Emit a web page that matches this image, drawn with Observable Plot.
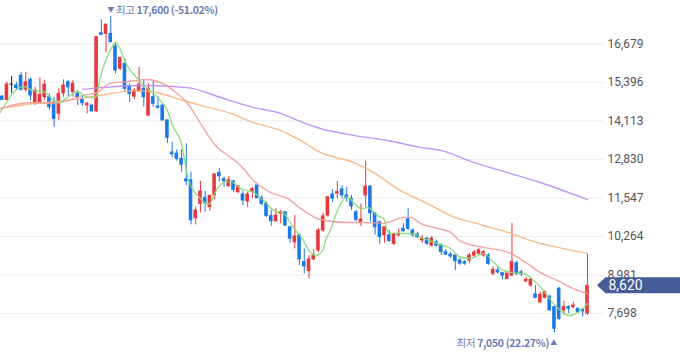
<!DOCTYPE html>
<html><head><meta charset="utf-8">
<script src="https://cdn.jsdelivr.net/npm/d3@7"></script>
<script src="https://cdn.jsdelivr.net/npm/@observablehq/plot@0.6"></script>
<style>
html,body{margin:0;padding:0;background:#fff;}
#chart{width:680px;height:358px;overflow:hidden;}
</style></head>
<body><div id="chart"></div>
<script>
// Daily candles (oldest -> newest)
const opens  = [14920,14810,15320,15290,15620,15150,15480,14730,14730,14900,14900,14730,14350,15030,15400,15070,15010,14810,14630,14620,14430,17030,17010,17010,16590,15850,16010,15260,14920,15100,15180,14290,14900,14590,14620,14130,13060,13020,12850,12160,12130,10870,11350,11550,11240,11630,12380,12170,11940,12100,11740,11660,11430,11740,11960,11540,11350,10940,10770,11020,11070,10570,10070,10300,9410,9110,9500,9800,10460,10960,11660,11690,11830,11630,11520,11070,10740,11630,11930,11040,10740,10300,10300,10020,10300,10520,10830,10460,10330,10130,10190,9960,10070,9960,9740,9660,9630,9460,9410,9460,9630,9690,9630,9630,9020,9130,9040,8850,8960,9370,9070,8770,8630,8330,8070,8220,8260,7910,8520,7800,7910,7910,7860,7820,7700];
const highs  = [14960,15400,15590,15400,15730,15730,15550,15230,15550,15460,15010,14900,15180,15480,15460,15460,15120,14920,14730,14660,16920,17480,17320,17600,16730,16210,16180,15350,15180,15900,15460,15350,15460,14900,14680,14130,13400,13150,13150,13350,12400,11240,12100,11760,11620,12330,12520,12240,12260,12130,11960,11770,11740,11900,11960,11630,11400,11130,11190,11130,11070,10600,10960,10300,9850,9630,9820,10530,11040,11590,11820,12100,11960,11900,11630,11130,11350,12770,11930,11040,10740,10570,10460,10350,10520,10690,11190,10520,10400,10300,10240,10260,10130,10020,9830,9730,9630,9530,9460,9700,9800,9860,9800,9700,9260,9230,9060,9060,10700,9440,9130,8900,8890,8630,8410,8460,8300,7910,8570,8110,7960,8070,7860,7860,9690];
const lows   = [14790,14790,15020,15120,15100,15070,14790,14620,14660,14790,14460,13900,14130,14900,14920,14900,14620,14590,14350,14400,14400,16950,16370,16730,15680,15790,15070,14730,14810,15070,14570,14260,14570,14510,14100,13360,12880,12770,12400,11960,10650,10650,11040,11070,11100,11490,12070,11900,11900,11740,11690,11290,11220,11520,11520,11290,10890,10600,10740,10690,10600,10030,9850,9300,9020,8850,9460,9730,10400,10900,11400,11520,11520,11400,11130,10740,10600,11240,10740,10300,10000,10040,10070,9960,10240,10400,10460,10240,10190,10040,9960,9910,9910,9630,9630,9530,9130,9300,9300,9360,9530,9630,9560,9300,8960,9000,8820,8830,8960,8960,8930,8730,8570,8190,8020,8190,7780,7050,7460,7630,7690,7860,7700,7580,7630];
const closes = [14810,15320,15320,15210,15150,15400,14960,15120,14980,15320,14570,14180,15010,15290,15230,15350,14900,14700,14680,14430,16900,16980,17320,16730,15790,16210,15180,15010,15120,15320,14900,15180,14680,14550,14130,13550,13000,12850,12650,12100,10800,11130,11760,11370,11620,12330,12270,12100,12130,11820,11940,11460,11660,11840,11540,11350,10940,10770,10960,11070,10630,10190,10260,9500,9270,9500,9630,10460,10930,11570,11520,11740,11630,11550,11260,10820,10830,11930,11040,10570,10240,10570,10110,10350,10350,10440,10520,10300,10240,10190,10020,10190,9960,9740,9660,9600,9440,9360,9360,9630,9730,9800,9740,9350,9150,9070,8960,9020,9410,9020,9000,8820,8820,8220,8320,8410,7800,7190,7520,7910,7860,7960,7740,7770,8620];

// Moving averages (candle position, price)
const ma5Idx  = [-0.4,4.5,6.6,8.75,10.9,11.9,13.8,16.0,17.0,18.7,19.8,20.8,22.9,24.0,25.1,26.1,27.2,28.7,30.8,32.1,33.5,35.0,36.3,37.8,39.5,42.0,43.7,45.6,47.3,48.4,50.5,53.2,55.4,57.5,59.6,61.7,63.8,64.9,66.4,67.9,68.5,69.5,71.3,73.2,74.4,76.3,77.4,79.5,80.8,81.8,83.7,85.9,88.0,89.3,92.2,95.0,97.0,99.2,102.0,104.1,106.2,108.3,110.4,112.6,114.7,116.6,118.3,120.0,121.9,124.0];
const ma5Val  = [14390,15260,15120,15090,14790,14720,14890,15090,14990,14890,14890,15560,16460,16720,16460,16060,15790,15520,15190,15020,14790,14460,13890,13460,12130,11530,11330,11860,12090,12090,11860,11730,11460,11130,11030,10560,10130,9800,9630,9800,10130,10460,11230,11590,11390,11190,11230,10960,10860,10400,10360,10360,10300,10200,10030,9860,9580,9530,9700,9400,9130,9060,9030,8800,8460,8060,7800,7630,7730,8030];
const ma20Idx = [-0.4,3.9,6.6,10.2,13.8,17.2,20.2,22.9,26.5,30.8,33.5,36.3,39.3,42.0,45.2,48.4,50.5,53.2,56.8,60.4,63.8,67.4,73.2,76.6,80.8,82.9,85.0,86.5,88.6,92.2,95.0,97.1,102.0,107.7,110.9,114.0,117.6,121.0,124.0];
const ma20Val = [14520,14690,14720,14690,14790,14960,15060,15360,15420,15490,15390,15120,14690,14030,13290,12890,12630,12130,11730,11530,11130,10830,10730,10730,10700,10800,10900,10900,10700,10530,10400,10100,9900,9700,9400,9060,8800,8530,8360];
const ma60Idx = [-0.4,6.6,13.8,20.8,27.8,31.4,35.0,38.4,42.0,48.4,53.2,59.0,63.2,67.4,74.4,78.7,84.4,90.1,95.0,102.0,107.1,114.0,118.9,124.0];
const ma60Val = [14520,14690,14790,14960,15120,15090,14960,14790,14630,14360,14060,13790,13460,13060,12730,12390,11790,11360,10960,10630,10400,10030,9860,9700];
const ma120Idx = [17.0,20.8,29.9,39.3,46.3,53.2,59.0,62.6,67.4,74.4,81.6,88.6,92.9,99.9,107.1,114.0,124.0];
const ma120Val = [15160,15220,15290,15220,14890,14560,14360,14130,13860,13630,13460,13230,13130,12730,12390,12060,11490];

const yTicks = [16679,15396,14113,12830,11547,10264,8981,7698];
const highIdx = 23, highPrice = 17600, highPct = "-51.02%";
const lowIdx = 117, lowPrice = 7050, lowPct = "22.27%";
const lastPrice = 8620;

const UP = "#e8383d", DOWN = "#1b78e5", FLAT = "#222";
const candles = opens.map((o, i) => ({
  i, o, h: highs[i], l: lows[i], c: closes[i],
  color: closes[i] > o ? UP : closes[i] < o ? DOWN : FLAT
}));
const mk = (idx, val) => idx.map((x, k) => ({x, v: val[k]}));
const lines = [
  {data: mk(ma120Idx, ma120Val), color: "#b98cf5"},
  {data: mk(ma60Idx, ma60Val), color: "#f7b47c"},
  {data: mk(ma20Idx, ma20Val), color: "#f59a9a"},
  {data: mk(ma5Idx, ma5Val), color: "#86da7c"}
];

const W = 680, H = 358, MR = 77;
const plot = Plot.plot({
  width: W, height: H,
  marginLeft: 0, marginRight: MR, marginTop: 0, marginBottom: 0,
  style: {fontFamily: "Roboto, 'Noto Sans CJK KR', sans-serif", fontSize: "12px", background: "#fff", overflow: "visible"},
  x: {domain: [-0.36, 127.39], axis: null},
  y: {domain: [6200, 18121], axis: null},
  color: {type: "identity"},
  marks: [
    Plot.gridY(yTicks, {stroke: "#ececec", strokeOpacity: 1}),
    Plot.axisY(yTicks, {anchor: "right", tickSize: 0, tickPadding: 4, tickFormat: d3.format(","), fill: "#555", fontSize: 12}),
    Plot.ruleX(candles, {x: "i", y1: "l", y2: "h", stroke: "color", strokeWidth: 1}),
    Plot.rect(candles, {x1: d => d.i - 0.38, x2: d => d.i + 0.38, y1: d => Math.min(d.o, d.c), y2: d => Math.max(d.o, d.c), fill: "color", insetTop: -0.5, insetBottom: -0.5}),
    ...lines.map(L => Plot.line(L.data, {x: "x", y: "v", stroke: L.color, strokeWidth: 1.4, strokeOpacity: 0.9, curve: "monotone-x"}))
  ]
});
document.getElementById("chart").appendChild(plot);

const svg = d3.select(plot);
const xs = plot.scale("x"), ys = plot.scale("y");
const labelColor = "#6a7db4";
const fmt = d3.format(",");

// high marker
const hx = xs.apply(highIdx), hy = ys.apply(highPrice);
const ht = svg.append("text").attr("x", hx - 3).attr("y", hy - 6.5)
  .attr("dominant-baseline", "central").attr("text-anchor", "start").attr("fill", labelColor)
  .style("font-family", "'Noto Sans CJK KR', sans-serif").style("font-size", "10.5px").style("letter-spacing", "-0.35px");
ht.append("tspan").text("▼").style("font-size", "7px");
ht.append("tspan").text(" 최고 ");
ht.append("tspan").text(`${fmt(highPrice)} (${highPct})`).style("font-weight", "bold");

// low marker
const lx = xs.apply(lowIdx), ly = ys.apply(lowPrice);
const lt = svg.append("text").attr("x", lx + 3).attr("y", ly + 9.5)
  .attr("dominant-baseline", "central").attr("text-anchor", "end").attr("fill", labelColor)
  .style("font-family", "'Noto Sans CJK KR', sans-serif").style("font-size", "10.5px").style("letter-spacing", "-0.35px");
lt.append("tspan").text("최저 ");
lt.append("tspan").text(`${fmt(lowPrice)} (${lowPct})`).style("font-weight", "bold");
lt.append("tspan").text(" ▲").style("font-size", "7px");

// current price tag
const py = ys.apply(lastPrice), tip = W - MR - 6, base = tip + 8.5;
svg.append("path")
  .attr("d", `M${tip},${py} L${base},${py - 8} L${W},${py - 8} L${W},${py + 8} L${base},${py + 8} Z`)
  .attr("fill", "#465c97");
svg.append("text").attr("x", base + 3).attr("y", py).attr("dominant-baseline", "central")
  .attr("text-anchor", "start").attr("fill", "#fff")
  .style("font-family", "Roboto, sans-serif").style("font-size", "14px")
  .text(fmt(lastPrice));
</script>
</body></html>
